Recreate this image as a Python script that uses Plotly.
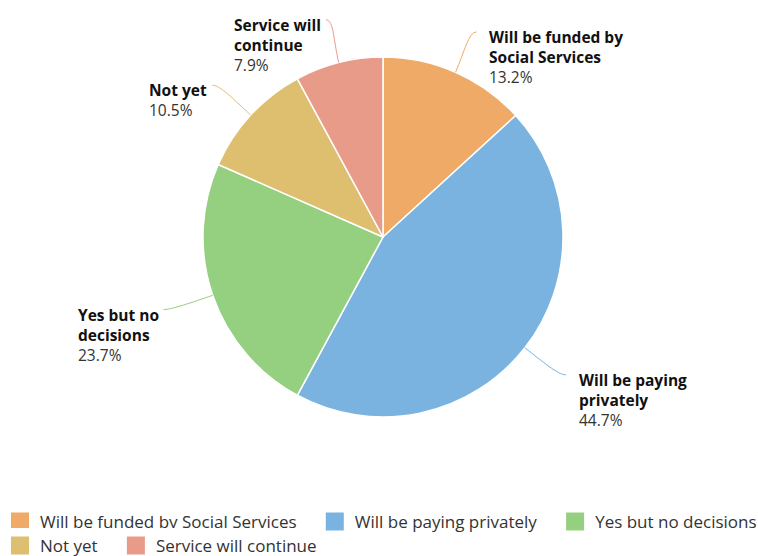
import math
import plotly.graph_objects as go

# Survey answers and their shares (percent)
labels = ["Will be funded by Social Services", "Will be paying privately",
          "Yes but no decisions", "Not yet", "Service will continue"]
label_lines = [["Will be funded by", "Social Services"], ["Will be paying", "privately"],
               ["Yes but no", "decisions"], ["Not yet"], ["Service will", "continue"]]
shares = [13.2, 44.7, 23.7, 10.5, 7.9]
colors = ["#EEAA66", "#7BB3E0", "#95CF80", "#DDBF6F", "#E99B8A"]
legend_rows = ["legend", "legend", "legend", "legend2", "legend2"]
row_last = [False, False, True, False, True]

W, H = 758, 556
CX, CY, R = 383, 237, 180          # pie centre and radius in pixels
RX, RY = 232, 224                  # where label connectors end
FONT = "Open Sans"


def px(x):
    return x / W


def py(y):
    return 1 - y / H


fig = go.Figure()
fig.add_trace(go.Pie(
    labels=labels, values=shares, sort=False, direction="clockwise", rotation=0,
    marker=dict(colors=colors, line=dict(color="white", width=1.5)),
    textinfo="none", hoverinfo="label+percent", showlegend=False,
    domain=dict(x=[px(CX - R), px(CX + R)], y=[py(CY + R), py(CY - R)]),
))

# Legend entries with larger square swatches, split over two rows
for name, col, lg, last in zip(labels, colors, legend_rows, row_last):
    fig.add_trace(go.Scatter(
        x=[None], y=[None], mode="markers", legend=lg,
        name=name if last else name + "\u00a0" * 3,
        marker=dict(symbol="square", size=16, color=col, line=dict(color=col, width=2)),
    ))

# Outside data labels with curved connectors, placed from each slice's mid-angle
total = sum(shares)
cum = 0.0
shapes, annotations = [], []
for lines, v, col in zip(label_lines, shares, colors):
    mid = (cum + v / 2) / total * 2 * math.pi
    cum += v
    sx, sy = math.sin(mid), -math.cos(mid)
    p0 = (CX + R * sx, CY + R * sy)
    c1 = (CX + (R + 22) * sx, CY + (R + 22) * sy)
    end = (CX + RX * sx, CY + RY * sy)
    right = sx >= 0
    c2 = (end[0] - 8, end[1]) if right else (end[0] + 8, end[1])
    path = "M {} {} C {} {}, {} {}, {} {}".format(
        px(p0[0]), py(p0[1]), px(c1[0]), py(c1[1]),
        px(c2[0]), py(c2[1]), px(end[0]), py(end[1]))
    shapes.append(dict(type="path", xref="paper", yref="paper", path=path,
                       line=dict(color=col, width=1)))
    rows = ["<b>{}</b>".format(s) for s in lines]
    rows.append("<span style='color:#333'>{:.1f}%</span>".format(v))
    annotations.append(dict(
        xref="paper", yref="paper",
        x=px(end[0] + 11) if right else px(end[0] - 3),
        y=py(end[1] + 3 - 11),
        xanchor="left" if right else "right", yanchor="top", align="left",
        text="<br>".join(rows), showarrow=False,
        font=dict(family=FONT, size=15.5, color="#111"),
    ))

legend_style = dict(orientation="h", x=0, xanchor="left", yanchor="middle",
                    font=dict(family=FONT, size=17, color="#333"),
                    itemclick=False, itemdoubleclick=False)

fig.update_layout(
    width=W, height=H, margin=dict(l=0, r=0, t=0, b=0, autoexpand=False),
    paper_bgcolor="white", plot_bgcolor="white",
    xaxis=dict(visible=False), yaxis=dict(visible=False),
    shapes=shapes, annotations=annotations,
    legend=dict(y=py(522), **legend_style),
    legend2=dict(y=py(546), **legend_style),
)

fig.write_html("out.html")
